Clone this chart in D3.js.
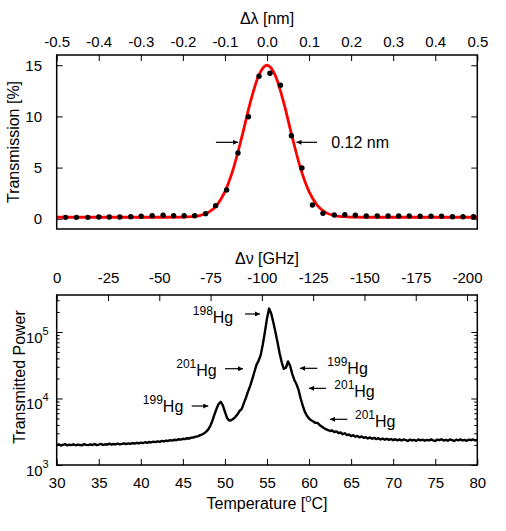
<!DOCTYPE html>
<html><head><meta charset="utf-8">
<script src="https://cdn.jsdelivr.net/npm/d3@7"></script>
<style>
body{margin:0;background:#fff;}
svg{display:block;}
</style></head><body>
<svg id="c" width="506" height="531"></svg>
<script>
// ---------- DATA ----------
// Top panel: measured transmission (dots)
const dotX=[-0.479,-0.453,-0.426,-0.400,-0.375,-0.350,-0.324,-0.299,-0.273,-0.247,-0.222,-0.197,-0.172,-0.146,-0.122,-0.096,-0.069,-0.044,-0.019,0.007,0.032,0.058,0.083,0.108,0.133,0.160,0.185,0.210,0.236,0.262,0.288,0.313,0.338,0.364,0.390,0.415,0.441,0.466,0.491];
const dotY=[0.14,0.14,0.14,0.17,0.17,0.17,0.20,0.24,0.30,0.34,0.30,0.30,0.30,0.50,1.28,2.81,6.43,9.97,13.92,14.21,13.04,8.12,4.96,1.34,0.53,0.37,0.40,0.34,0.27,0.27,0.27,0.27,0.27,0.24,0.24,0.24,0.20,0.20,0.20];
// Top panel: fitted curve (red)
const fitX=[-0.5,-0.4,-0.3,-0.24,-0.2,-0.18,-0.16,-0.14,-0.12,-0.10,-0.08,-0.06,-0.04,-0.02,0,0.02,0.04,0.06,0.08,0.10,0.12,0.14,0.16,0.18,0.2,0.24,0.3,0.4,0.5];
const fitY=[0.15,0.15,0.15,0.15,0.16,0.20,0.31,0.60,1.29,2.65,4.90,7.97,11.32,13.97,15.0,13.97,11.32,7.97,4.90,2.65,1.29,0.60,0.31,0.20,0.16,0.15,0.15,0.15,0.15];
// Bottom panel: transmitted power vs temperature
const tempC=[30,30.25,30.5,30.75,31,31.25,31.5,31.75,32,32.25,32.5,32.75,33,33.25,33.5,33.75,34,34.25,34.5,34.75,35,35.25,35.5,35.75,36,36.25,36.5,36.75,37,37.25,37.5,37.75,38,38.25,38.5,38.75,39,39.25,39.5,39.75,40,40.25,40.5,40.75,41,41.25,41.5,41.75,42,42.25,42.5,42.75,43,43.25,43.5,43.75,44,44.25,44.5,44.75,45,45.25,45.5,45.75,46,46.25,46.5,46.75,47,47.25,47.5,
47.75,48,48.25,48.5,48.75,49,49.25,49.5,49.75,50,50.25,50.5,50.75,51,51.25,51.5,51.75,52,52.25,52.5,52.75,53,53.25,53.5,53.75,54,54.25,54.5,54.75,55,55.25,55.5,55.75,56,56.25,56.5,56.75,57,57.25,57.5,57.75,58,58.25,58.5,58.75,59,59.25,59.5,59.75,60,60.25,60.5,60.75,61,61.25,61.5,61.75,62,62.25,62.5,
62.75,63,63.25,63.5,63.75,64,64.25,64.5,64.75,65,65.25,65.5,65.75,66,66.25,66.5,66.75,67,67.25,67.5,67.75,68,68.25,68.5,68.75,69,69.25,69.5,69.75,70,70.25,70.5,70.75,71,71.25,71.5,71.75,72,72.25,72.5,72.75,73,73.25,73.5,73.75,74,74.25,74.5,74.75,75,75.25,75.5,75.75,76,76.25,76.5,76.75,77,77.25,77.5,77.75,78,78.25,78.5,78.75,79,79.25,79.5,79.75,80];
const power=[1980,2040,1960,2010,2060,1970,2020,1990,2050,1980,
2030,2000,1970,2060,2010,1990,2040,2000,2070,1990,
2030,2080,2000,2050,2020,2090,2030,2070,2040,2100,
2050,2080,2120,2060,2110,2080,2140,2100,2160,2110,
2170,2130,2200,2150,2220,2190,2250,2210,2270,2230,
2300,2260,2330,2300,2360,2330,2400,2370,2440,2410,
2480,2450,2530,2500,2580,2590,2660,2700,2790,2870,
2980,
3150,3400,3850,4600,5700,7000,8300,8900,7900,6300,
5100,4650,4700,4950,5300,5800,6500,7000,8500,10300,
12800,15500,19500,25000,32000,37000,45000,65000,100000,160000,
225000,190000,140000,100000,70000,48000,35000,28000,29000,36000,
31000,23500,19000,16500,13500,10000,7800,6300,5500,5000,
4700,4500,4300,4300,4000,3800,3600,3450,3350,3250,
3300,3120,3200,3010,3080,2900,3000,2820,2880,2720,
2810,2660,2740,2600,2690,2560,2620,2510,2600,2480,
2560,2450,2530,2420,2500,2400,2480,2390,2460,2370,
2440,2350,2430,2340,2420,2360,2300,2410,2340,2390,
2310,2420,2350,2400,2320,2390,2340,2430,2350,2300,
2410,2360,2440,2330,2390,2320,2420,2360,2300,2400,
2350,2430,2340,2390,2310,2410,2360,2420,2340,2390];
// Tick values
const lamTicks=[-0.5,-0.4,-0.3,-0.2,-0.1,0,0.1,0.2,0.3,0.4,0.5];
const transTicks=[0,5,10,15];
const ghzTicks=[0,-25,-50,-75,-100,-125,-150,-175,-200];
const tempTicks=[30,35,40,45,50,55,60,65,70,75,80];
const powerMajor=[1e3,1e4,1e5];
const powerMinor=[2e3,3e3,4e3,5e3,6e3,7e3,8e3,9e3,2e4,3e4,4e4,5e4,6e4,7e4,8e4,9e4,2e5,3e5];
// Annotations (data coordinates)
const fwhmArrows=[{x1:-0.1215,x2:-0.0687,y:7.47},{x1:0.119,x2:0.070,y:7.47}];
const fwhmLabel={x:0.1525,y:6.9,text:"0.12 nm"};
const isoArrows=[
 {x1:52.38,x2:54.17,p:186600},
 {x1:50.01,x2:52.15,p:28050},
 {x1:46.05,x2:48.02,p:7710},
 {x1:60.98,x2:58.92,p:28440},
 {x1:62.01,x2:59.99,p:14220},
 {x1:64.55,x2:62.49,p:4864}];
const isoLabels=[
 {iso:"198",t:50.99,p:138000,anchor:"end"},
 {iso:"201",t:49.02,p:21780,anchor:"end"},
 {iso:"199",t:45.05,p:6340,anchor:"end"},
 {iso:"199",t:62.17,p:23500,anchor:"start"},
 {iso:"201",t:63.0,p:10500,anchor:"start"},
 {iso:"201",t:65.46,p:3767,anchor:"start"}];

// ---------- LAYOUT ----------
const FONT='"Liberation Sans", Arial, Helvetica, sans-serif';
const svg=d3.select("#c");
const P1={l:56.7,r:477.3,t:55,b:229};
const P2={l:56.7,r:477.3,t:295,b:465};
const xL=d3.scaleLinear().domain([-0.5,0.5]).range([P1.l,P1.r]);
const yT=d3.scaleLinear().domain([-1,16]).range([P1.b,P1.t]);
const xT=d3.scaleLinear().domain([30,80]).range([P2.l,P2.r]);
const xG=d3.scaleLinear().domain([0,-205]).range([P2.l,P2.r]);
const yP=d3.scaleLog().domain([1000,3.6e5]).range([P2.b,P2.t]);

const defs=svg.append("defs");
defs.append("marker").attr("id","ah").attr("viewBox","0 0 10 10")
  .attr("refX",10).attr("refY",5).attr("markerWidth",7).attr("markerHeight",5)
  .attr("markerUnits","userSpaceOnUse").attr("orient","auto")
  .append("path").attr("d","M0,0L10,5L0,10z").attr("fill","#000");
defs.append("clipPath").attr("id","clip1").append("rect")
  .attr("x",P1.l).attr("y",P1.t).attr("width",P1.r-P1.l).attr("height",P1.b-P1.t);
defs.append("clipPath").attr("id","clip2").append("rect")
  .attr("x",P2.l).attr("y",P2.t).attr("width",P2.r-P2.l).attr("height",P2.b-P2.t);

function styleAxis(g,fs){
  g.attr("font-family",FONT).attr("font-size",fs);
  g.select(".domain").remove();
  g.selectAll(".tick line").attr("stroke","#000").attr("stroke-width",1);
  g.selectAll(".tick text").attr("fill","#000");
}

// ---------- TOP PANEL ----------
svg.append("g").attr("transform",`translate(0,${P1.t})`)
  .call(d3.axisTop(xL).tickValues(lamTicks).tickSizeInner(-6).tickSizeOuter(0).tickPadding(8.3)
    .tickFormat(d=>d.toFixed(1)))
  .call(g=>styleAxis(g,15));
svg.append("g").attr("transform",`translate(${P1.l},0)`)
  .call(d3.axisLeft(yT).tickValues(transTicks).tickSizeInner(-6).tickSizeOuter(0).tickPadding(14.7)
    .tickFormat(d=>String(d)))
  .call(g=>styleAxis(g,15));
svg.append("g").attr("transform",`translate(${P1.r},0)`)
  .call(d3.axisRight(yT).tickValues(transTicks).tickSizeInner(-6).tickSizeOuter(0).tickFormat(""))
  .call(g=>styleAxis(g,15));

const g1=svg.append("g").attr("clip-path","url(#clip1)");
const fitLine=d3.line().x((d,i)=>xL(fitX[i])).y((d,i)=>yT(fitY[i])).curve(d3.curveMonotoneX);
g1.append("path").datum(fitX).attr("d",fitLine).attr("fill","none")
  .attr("stroke","#ff0000").attr("stroke-width",2.8).attr("stroke-linejoin","round");
g1.selectAll("circle.dot").data(dotX).join("circle").attr("class","dot")
  .attr("cx",(d,i)=>xL(dotX[i])).attr("cy",(d,i)=>yT(dotY[i])).attr("r",2.7).attr("fill","#000");

svg.append("rect").attr("x",P1.l).attr("y",P1.t).attr("width",P1.r-P1.l).attr("height",P1.b-P1.t)
  .attr("fill","none").attr("stroke","#000").attr("stroke-width",1.5);

svg.selectAll("line.fw").data(fwhmArrows).join("line").attr("class","fw")
  .attr("x1",d=>xL(d.x1)).attr("x2",d=>xL(d.x2)).attr("y1",d=>yT(d.y)).attr("y2",d=>yT(d.y))
  .attr("stroke","#000").attr("stroke-width",1.2).attr("marker-end","url(#ah)");
svg.append("text").attr("x",xL(fwhmLabel.x)).attr("y",yT(fwhmLabel.y))
  .attr("font-family",FONT).attr("font-size",16).text(fwhmLabel.text);

svg.append("text").attr("x",(P1.l+P1.r)/2).attr("y",24).attr("text-anchor","middle")
  .attr("font-family",FONT).attr("font-size",16).text("Δλ [nm]");
svg.append("text").attr("transform",`translate(18.5,${(P1.t+P1.b)/2}) rotate(-90)`)
  .attr("text-anchor","middle").attr("font-family",FONT).attr("font-size",16).text("Transmission [%]");

// ---------- BOTTOM PANEL ----------
svg.append("g").attr("transform",`translate(0,${P2.t})`)
  .call(d3.axisTop(xG).tickValues(ghzTicks).tickSizeInner(-6).tickSizeOuter(0).tickPadding(11.7)
    .tickFormat(d=>String(d)))
  .call(g=>styleAxis(g,15));
svg.append("g").attr("transform",`translate(0,${P2.b})`)
  .call(d3.axisBottom(xT).tickValues(tempTicks).tickSizeInner(-6).tickSizeOuter(0).tickPadding(12.6)
    .tickFormat(d=>String(d)))
  .call(g=>styleAxis(g,15));
svg.append("g").attr("transform",`translate(${P2.l},0)`)
  .call(d3.axisLeft(yP).tickValues(powerMajor).tickSizeInner(-6).tickSizeOuter(0).tickPadding(8))
  .call(g=>styleAxis(g,15))
  .call(g=>g.selectAll(".tick text").each(function(d){
    const t=d3.select(this); t.text(null).attr("dy","0.67em");
    t.append("tspan").text("10");
    t.append("tspan").attr("dy",-8).attr("font-size",11).text(String(Math.round(Math.log10(d))));
  }));
svg.append("g").attr("transform",`translate(${P2.l},0)`)
  .call(d3.axisLeft(yP).tickValues(powerMinor).tickSizeInner(-3).tickSizeOuter(0).tickFormat(""))
  .call(g=>styleAxis(g,15));
svg.append("g").attr("transform",`translate(${P2.r},0)`)
  .call(d3.axisRight(yP).tickValues(powerMajor).tickSizeInner(-6).tickSizeOuter(0).tickFormat(""))
  .call(g=>styleAxis(g,15));
svg.append("g").attr("transform",`translate(${P2.r},0)`)
  .call(d3.axisRight(yP).tickValues(powerMinor).tickSizeInner(-3).tickSizeOuter(0).tickFormat(""))
  .call(g=>styleAxis(g,15));

const g2=svg.append("g").attr("clip-path","url(#clip2)");
const traceLine=d3.line().x((d,i)=>xT(tempC[i])).y((d,i)=>yP(power[i]));
g2.append("path").datum(tempC).attr("d",traceLine).attr("fill","none")
  .attr("stroke","#000").attr("stroke-width",2.4).attr("stroke-linejoin","round");

svg.append("rect").attr("x",P2.l).attr("y",P2.t).attr("width",P2.r-P2.l).attr("height",P2.b-P2.t)
  .attr("fill","none").attr("stroke","#000").attr("stroke-width",1.5);

svg.selectAll("line.iso").data(isoArrows).join("line").attr("class","iso")
  .attr("x1",d=>xT(d.x1)).attr("x2",d=>xT(d.x2)).attr("y1",d=>yP(d.p)).attr("y2",d=>yP(d.p))
  .attr("stroke","#000").attr("stroke-width",1.2).attr("marker-end","url(#ah)");
svg.selectAll("text.iso").data(isoLabels).join("text").attr("class","iso")
  .attr("x",d=>xT(d.t)).attr("y",d=>yP(d.p)).attr("text-anchor",d=>d.anchor)
  .attr("font-family",FONT).attr("font-size",16)
  .each(function(d){
    const t=d3.select(this);
    t.append("tspan").attr("font-size",12).attr("dy",-8).text(d.iso);
    t.append("tspan").attr("dy",8).text("Hg");
  });

svg.append("text").attr("x",(P2.l+P2.r)/2).attr("y",263.5).attr("text-anchor","middle")
  .attr("font-family",FONT).attr("font-size",16).text("Δν [GHz]");
const tt=svg.append("text").attr("x",(P2.l+P2.r)/2).attr("y",508.5).attr("text-anchor","middle")
  .attr("font-family",FONT).attr("font-size",16);
tt.append("tspan").text("Temperature [");
tt.append("tspan").attr("font-size",11).attr("dy",-7).text("o");
tt.append("tspan").attr("dy",7).text("C]");
svg.append("text").attr("transform",`translate(24.5,${(P2.t+P2.b)/2-3}) rotate(-90)`)
  .attr("text-anchor","middle").attr("font-family",FONT).attr("font-size",16).text("Transmitted Power");
</script>
</body></html>
